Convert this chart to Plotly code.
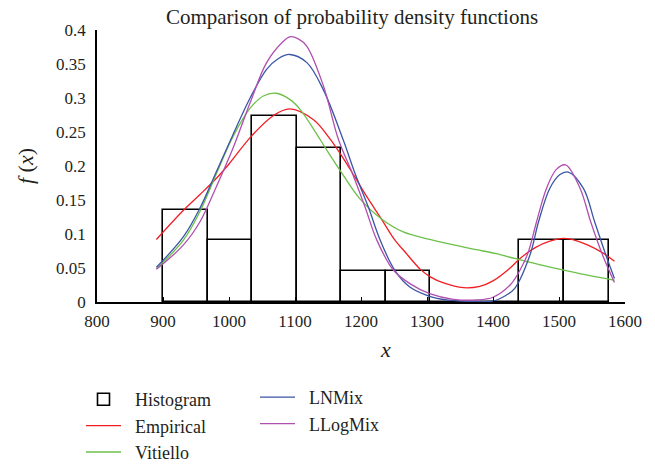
import plotly.graph_objects as go

# ---------------- data ----------------
bin_centers = [933.75, 1001.25, 1068.75, 1136.25, 1203.75, 1271.25, 1338.75, 1406.25, 1473.75, 1541.25]
bin_width = 67.5
hist_heights = [0.136, 0.091, 0.273, 0.227, 0.045, 0.045, 0.0, 0.0, 0.091, 0.091]

emp_x = [890, 931, 956, 981, 1000, 1034, 1067, 1092, 1128, 1153, 1170, 1190, 1210, 1231, 1250, 1269,
         1290, 1305, 1325, 1355, 1380, 1400, 1426, 1441, 1464, 1485, 1507, 1527, 1544, 1565, 1584]
emp_y = [0.092, 0.135, 0.158, 0.182, 0.203, 0.244, 0.274, 0.284, 0.268, 0.240, 0.216, 0.185, 0.153, 0.122,
         0.093, 0.071, 0.048, 0.037, 0.028, 0.021, 0.023, 0.031, 0.050, 0.064, 0.080, 0.089, 0.0935,
         0.090, 0.0836, 0.073, 0.060]

vit_x = [890, 931, 956, 981, 1006, 1032, 1052, 1071, 1092, 1108, 1138, 1153, 1168, 1198, 1231, 1264,
         1304, 1340, 1375, 1405, 1433, 1470, 1507, 1545, 1584]
vit_y = [0.049, 0.091, 0.133, 0.189, 0.243, 0.285, 0.303, 0.307, 0.298, 0.283, 0.239, 0.216, 0.194,
         0.152, 0.122, 0.103, 0.092, 0.084, 0.077, 0.071, 0.064, 0.055, 0.047, 0.039, 0.032]

ln_x = [890, 931, 956, 981, 1006, 1032, 1057, 1075, 1092, 1118, 1143, 1173, 1191, 1211, 1229, 1251,
        1274, 1304, 1330, 1360, 1400, 1420, 1433, 1456, 1469, 1486, 1501, 1514, 1537, 1554, 1571, 1584]
ln_y = [0.051, 0.096, 0.138, 0.192, 0.246, 0.300, 0.342, 0.358, 0.364, 0.352, 0.312, 0.2385, 0.189,
        0.140, 0.091, 0.047, 0.022, 0.0084, 0.003, 0.001, 0.0015, 0.010, 0.020, 0.069, 0.118, 0.167,
        0.187, 0.191, 0.167, 0.118, 0.069, 0.0345]

llog_x = [890, 931, 956, 981, 1006, 1032, 1057, 1082, 1092, 1105, 1118, 1143, 1166, 1187, 1206, 1224,
          1249, 1274, 1304, 1340, 1375, 1400, 1426, 1441, 1453, 1466, 1481, 1496, 1510, 1532, 1548,
          1566, 1584]
llog_y = [0.048, 0.084, 0.118, 0.170, 0.226, 0.293, 0.352, 0.383, 0.390, 0.387, 0.376, 0.318, 0.2385,
          0.189, 0.140, 0.091, 0.047, 0.027, 0.0124, 0.004, 0.003, 0.007, 0.025, 0.047, 0.072, 0.118,
          0.167, 0.195, 0.2016, 0.167, 0.118, 0.069, 0.0286]

x_ticks = [800, 900, 1000, 1100, 1200, 1300, 1400, 1500, 1600]
y_ticks = [0, 0.05, 0.1, 0.15, 0.2, 0.25, 0.3, 0.35, 0.4]
y_tick_labels = ["0", "0.05", "0.1", "0.15", "0.2", "0.25", "0.3", "0.35", "0.4"]

# ---------------- style ----------------
FONT = "Liberation Serif"
TXT = "#231f20"
C_EMP = "#f01e23"
C_VIT = "#6cc04a"
C_LN = "#3a55a4"
C_LLOG = "#b04fb0"
PAD = "\u00a0\u00a0"   # gap between legend symbol and label

# The page body has an 8 px margin, so the figure is 8 px smaller each way.
W, H = 647, 456
OFF = 8

fig = go.Figure()

fig.add_trace(go.Bar(
    x=bin_centers, y=hist_heights, width=bin_width,
    marker=dict(color="white", line=dict(color="black", width=1.6)),
    name=PAD + "Histogram", legend="legend",
))

def curve(x, y, name, color, legend):
    fig.add_trace(go.Scatter(
        x=x, y=y, mode="lines", name=PAD + name,
        line=dict(color=color, width=1.3, shape="spline", smoothing=1.0),
        legend=legend,
    ))

curve(emp_x, emp_y, "Empirical", C_EMP, "legend")
curve(vit_x, vit_y, "Vitiello", C_VIT, "legend")
curve(ln_x, ln_y, "LNMix", C_LN, "legend2")
curve(llog_x, llog_y, "LLogMix", C_LLOG, "legend2")

legend_common = dict(
    font=dict(family=FONT, size=18, color=TXT),
    bgcolor="rgba(0,0,0,0)", borderwidth=0,
    itemwidth=35, xref="container", yref="container",
    xanchor="left", yanchor="top", tracegroupgap=0,
    itemclick=False, itemdoubleclick=False,
)

def cx(px):
    return (px - OFF) / W

def cy(py):
    return 1 - (py - OFF) / H

fig.update_layout(
    width=W, height=H,
    margin=dict(l=97 - OFF, r=30, t=30 - OFF, b=162, autoexpand=False),
    paper_bgcolor="white", plot_bgcolor="white",
    font=dict(family=FONT, size=17, color=TXT),
    title=dict(text="Comparison of probability density functions",
               font=dict(family=FONT, size=21, color=TXT),
               x=cx(352), xanchor="center", xref="container",
               y=cy(16.5), yanchor="middle", yref="container"),
    bargap=0,
    xaxis=dict(range=[800, 1600], tickvals=x_ticks, showgrid=False, zeroline=False,
               showline=True, linecolor="black", linewidth=1.5,
               ticks="inside", ticklen=5, tickwidth=1, tickcolor="black",
               ticklabelstandoff=3, automargin=False,
               tickfont=dict(family=FONT, size=17, color=TXT)),
    yaxis=dict(range=[0, 0.4], tickvals=y_ticks, ticktext=y_tick_labels,
               showgrid=False, zeroline=False, automargin=False,
               showline=True, linecolor="black", linewidth=1.5,
               ticks="", ticklabelstandoff=6,
               tickfont=dict(family=FONT, size=17, color=TXT)),
    legend=dict(x=cx(81), y=cy(381), traceorder="normal", **legend_common),
    legend2=dict(x=cx(255), y=cy(379), traceorder="normal", **legend_common),
    annotations=[
        dict(text="<i>x</i>", xref="paper", yref="paper",
             x=(385 - 97) / 528, y=-(349 - 302) / 272,
             xanchor="center", yanchor="middle", showarrow=False,
             font=dict(family=FONT, size=22, color=TXT)),
        dict(text="<i>f</i> (<i>x</i>)", xref="paper", yref="paper",
             x=(25 - 97) / 528, y=(302 - 166) / 272, textangle=-90,
             xanchor="center", yanchor="middle", showarrow=False,
             font=dict(family=FONT, size=22, color=TXT)),
    ],
)

fig.write_html("out.html")
